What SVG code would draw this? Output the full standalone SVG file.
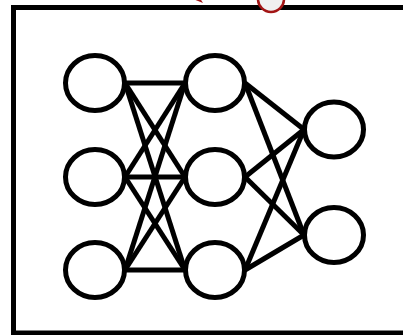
<svg xmlns="http://www.w3.org/2000/svg" width="403" height="335" viewBox="0 0 403 335">
<style>
.node{fill:#ffffff;stroke:#000000;stroke-width:5}
.edge{stroke:#000000;stroke-width:5;fill:none}
.frame{fill:#ffffff;stroke:#000000;stroke-width:5}
.port{fill:#f0f0f0;stroke:#a31515;stroke-width:2.5}
.tip{fill:#a31515}
</style>
<rect class="frame" x="13.5" y="7.5" width="420" height="325.5"/>
<polygon class="tip" points="203,3 188,-3 196,-8"/>
<g id="connectors">
<line class="edge" x1="125" y1="83" x2="185" y2="83"/>
<line class="edge" x1="125" y1="83" x2="185" y2="177"/>
<line class="edge" x1="125" y1="83" x2="185" y2="270"/>
<line class="edge" x1="125" y1="177" x2="185" y2="83"/>
<line class="edge" x1="125" y1="177" x2="185" y2="177"/>
<line class="edge" x1="125" y1="177" x2="185" y2="270"/>
<line class="edge" x1="125" y1="270" x2="185" y2="83"/>
<line class="edge" x1="125" y1="270" x2="185" y2="177"/>
<line class="edge" x1="125" y1="270" x2="185" y2="270"/>
<line class="edge" x1="245" y1="83" x2="304" y2="129.5"/>
<line class="edge" x1="245" y1="83" x2="304" y2="235"/>
<line class="edge" x1="245" y1="177" x2="304" y2="129.5"/>
<line class="edge" x1="245" y1="177" x2="304" y2="235"/>
<line class="edge" x1="245" y1="270" x2="304" y2="129.5"/>
<line class="edge" x1="245" y1="270" x2="304" y2="235"/>
</g>
<g id="n1"><ellipse class="node" cx="95" cy="83" rx="29.5" ry="27.5"/></g>
<g id="n2"><ellipse class="node" cx="95" cy="177" rx="29.5" ry="27.5"/></g>
<g id="n3"><ellipse class="node" cx="95" cy="270" rx="29.5" ry="27.5"/></g>
<g id="n4"><ellipse class="node" cx="215" cy="83" rx="29.5" ry="27.5"/></g>
<g id="n5"><ellipse class="node" cx="215" cy="177" rx="29.5" ry="27.5"/></g>
<g id="n6"><ellipse class="node" cx="215" cy="270" rx="29.5" ry="27.5"/></g>
<g id="n7"><ellipse class="node" cx="334" cy="129.5" rx="29.5" ry="27.5"/></g>
<g id="n8"><ellipse class="node" cx="334" cy="235" rx="29.5" ry="27.5"/></g>
<g id="port"><circle class="port" cx="271" cy="-1" r="13"/></g>
</svg>
